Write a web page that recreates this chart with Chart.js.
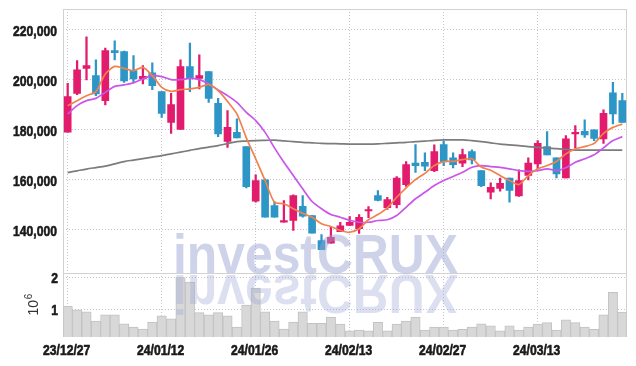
<!DOCTYPE html>
<html>
<head>
<meta charset="utf-8">
<script src="https://cdn.jsdelivr.net/npm/chart.js@4/dist/chart.umd.min.js"></script>
<style>
  html, body { margin: 0; padding: 0; background: #ffffff; }
  #wrap { width: 636px; height: 366px; position: relative; }
</style>
</head>
<body>
<div id="wrap"><canvas id="c" width="636" height="366"></canvas></div>
<script>
// ---- data ----
const dates = ['23/12/27','23/12/28','24/01/02','24/01/03','24/01/04','24/01/05','24/01/08','24/01/09','24/01/10','24/01/11',
  '24/01/12','24/01/15','24/01/16','24/01/17','24/01/18','24/01/19','24/01/22','24/01/23','24/01/24','24/01/25',
  '24/01/26','24/01/29','24/01/30','24/01/31','24/02/01','24/02/02','24/02/05','24/02/06','24/02/07','24/02/08',
  '24/02/13','24/02/14','24/02/15','24/02/16','24/02/19','24/02/20','24/02/21','24/02/22','24/02/23','24/02/26',
  '24/02/27','24/02/28','24/02/29','24/03/04','24/03/05','24/03/06','24/03/07','24/03/08','24/03/11','24/03/12',
  '24/03/13','24/03/14','24/03/15','24/03/18','24/03/19','24/03/20','24/03/21','24/03/22','24/03/25','24/03/26'];

const xTickLabels = ['23/12/27','24/01/12','24/01/26','24/02/13','24/02/27','24/03/13'];
const priceTicks = [140000, 160000, 180000, 200000, 220000];
const volumeTicks = [1000000, 2000000];

const openP = [179100,194600,204600,201700,191700,211700,211300,203700,200400,202800,
  195300,183000,180200,205300,200600,203300,190600,175400,179000,173300,
  151400,160000,149700,143000,143700,149400,145700,135700,134600,139200,
  141700,140400,147500,153700,148800,150000,158100,166700,167000,163700,
  174100,168800,166700,171300,163700,155000,156600,160700,153500,161800,
  166400,173300,168800,160800,178400,179400,180000,176400,194800,191700];
const highP = [198600,207700,217300,208000,212800,215700,211500,209700,205700,206800,
  195300,194600,208000,214800,210000,203300,192600,187700,184400,173300,
  162000,160400,151300,151700,154000,153700,145700,138100,141300,143000,
  145300,146100,149300,155700,153000,161300,167300,174100,170800,174000,
  175500,170800,172300,172000,163700,158800,160700,160700,164000,168800,
  175700,179300,168800,177700,181700,184000,180000,188000,199000,194600];
const lowP = [179100,194100,200000,193700,190000,208000,199000,199300,198400,196100,
  185000,178600,180200,195300,196400,191000,177300,173000,176800,156800,
  151000,145000,145000,143000,139700,145000,138600,132000,134600,139200,
  141700,138500,144800,151500,148100,148700,157400,163000,163700,163300,
  165700,164800,165300,166400,157300,152300,155400,151000,153300,160000,
  164400,170000,160800,160800,172800,177000,175700,174600,182400,183000];
const closeP = [193300,204000,205700,194400,211700,210900,199600,200400,201400,197700,
  186600,190100,205300,200800,201700,192600,178400,181000,176800,157300,
  159700,145000,145000,143700,153700,145400,138600,132000,137000,141600,
  143000,145000,147900,151700,152100,160700,166100,165700,165500,171300,
  167300,166100,170100,168000,157700,157000,158600,155700,159700,166700,
  174600,170000,162400,176400,179000,178000,176600,186600,186400,183000];

const maShort = [189700,191700,193700,195300,202400,205400,204600,203700,205000,201700,
  197000,195400,196100,196400,197000,198200,195700,191400,186400,176800,
  168400,159700,151000,150400,148400,146600,145000,142400,141300,139700,
  139000,140400,144000,146100,148800,153000,156800,160100,162600,165700,
  167300,167400,168100,168400,165100,163800,161700,159700,158100,161700,
  164400,165700,167300,170400,172400,173300,174600,178600,181000,182300];
const maMid = [186400,189700,191700,192600,195000,197400,198000,198800,200400,201700,
  201300,200100,200100,200600,200100,198400,196000,193700,191000,187000,
  183700,179000,172800,167000,161700,156400,151300,148400,146100,145000,
  143800,143000,143000,143700,144000,145700,149000,152400,155000,157700,
  159700,161300,163000,165000,165700,165300,165000,164400,163700,163400,
  163700,164400,163700,164800,167000,168400,170000,172800,175700,177300];
const maLong = [162900,163600,164300,164900,165500,166400,167300,167900,168500,169100,
  169700,170400,171100,171800,172500,173100,173700,174500,175300,175500,
  175700,175800,175900,175600,175300,175000,174800,174600,174500,174400,
  174300,174300,174300,174400,174600,174800,175000,175300,175500,175800,
  176000,176000,176000,175700,175300,174800,174300,174000,173700,173300,
  173000,172700,172500,172200,171900,171900,171900,171900,171900,171900];

const volume = [1100000,980000,920000,630000,820000,820000,540000,440000,375000,600000,
  790000,700000,1990000,1850000,890000,820000,890000,790000,440000,1130000,
  1660000,920000,630000,380000,600000,920000,560000,560000,750000,530000,
  320000,350000,320000,590000,320000,530000,630000,750000,350000,440000,
  440000,350000,370000,440000,540000,480000,320000,480000,350000,440000,
  530000,580000,350000,670000,580000,440000,370000,820000,1530000,910000];

// ---- styling ----
const UP = '#e21b6c';
const DOWN = '#2e96c6';
const GRID = '#c4c4d6';
const FONT = '"Liberation Sans", Arial, sans-serif';
const SQUEEZE = 0.81;

const isUp = i => closeP[i] >= openP[i];
const candleColor = ctx => isUp(ctx.dataIndex) ? UP : DOWN;

function squeezedText(ctx, text, x, y, align, font, color) {
  ctx.save();
  ctx.translate(x, y);
  ctx.scale(SQUEEZE, 1);
  ctx.font = font;
  ctx.fillStyle = color;
  ctx.strokeStyle = color;
  ctx.lineWidth = 0.6;
  ctx.textAlign = align;
  ctx.textBaseline = 'alphabetic';
  ctx.fillText(text, 0, 0);
  ctx.strokeText(text, 0, 0);
  ctx.restore();
}

const panelPlugin = {
  id: 'panels',
  beforeDatasetsDraw(chart) {
    const {ctx, chartArea} = chart;
    const yv = chart.scales.yv;
    ctx.save();
    ctx.strokeStyle = '#d2d2d2';
    ctx.lineWidth = 1;
    ctx.strokeRect(Math.round(chartArea.left) + 0.5, Math.round(chartArea.top) + 0.5,
      Math.round(chartArea.right - chartArea.left) - 1, Math.round(yv.top - chartArea.top));
    ctx.beginPath();
    ctx.moveTo(chartArea.left, Math.round(yv.top) + 0.5);
    ctx.lineTo(chartArea.right, Math.round(yv.top) + 0.5);
    ctx.moveTo(Math.round(chartArea.left) + 0.5, yv.top);
    ctx.lineTo(Math.round(chartArea.left) + 0.5, chartArea.bottom);
    ctx.moveTo(Math.round(chartArea.right) - 0.5, yv.top);
    ctx.lineTo(Math.round(chartArea.right) - 0.5, chartArea.bottom);
    ctx.stroke();
    ctx.restore();
  },
  afterDatasetsDraw(chart) {
    const {ctx} = chart;
    const {x, y, yv} = chart.scales;
    ctx.save();
    // watermark
    const text = 'investCRUX';
    ctx.font = 'bold 56px ' + FONT;
    const w = ctx.measureText(text).width;
    const sx = 285 / w;
    const baseY = 273;
    ctx.translate(173, baseY);
    ctx.scale(sx, 1);
    ctx.fillStyle = 'rgba(150,162,210,0.47)';
    ctx.textBaseline = 'alphabetic';
    ctx.fillText(text, 0, 0);
    ctx.scale(1, -1);
    const g = ctx.createLinearGradient(0, 0, 0, 48);
    g.addColorStop(0, 'rgba(150,162,210,0.34)');
    g.addColorStop(1, 'rgba(150,162,210,0.0)');
    ctx.fillStyle = g;
    ctx.fillText(text, 0, -2);
    ctx.restore();

    // tick labels
    const tickFont = 'bold 15px ' + FONT;
    priceTicks.forEach(v => {
      squeezedText(ctx, v.toLocaleString('en-US'), 57, y.getPixelForValue(v) + 6.5, 'right', tickFont, '#1a1a1a');
    });
    volumeTicks.forEach(v => {
      squeezedText(ctx, String(v / 1000000), 58, yv.getPixelForValue(v) + 6, 'right', tickFont, '#1a1a1a');
    });
    dates.forEach((d, i) => {
      if (xTickLabels.includes(d)) {
        squeezedText(ctx, d, x.getPixelForValue(i) - 1, 354.5, 'center', tickFont, '#1a1a1a');
      }
    });

    // volume axis unit
    ctx.save();
    const cy = (yv.top + yv.bottom) / 2;
    ctx.translate(38, cy);
    ctx.rotate(-Math.PI / 2);
    ctx.fillStyle = '#333';
    ctx.textBaseline = 'alphabetic';
    ctx.textAlign = 'left';
    ctx.font = '14px ' + FONT;
    const w10 = ctx.measureText('10').width;
    ctx.font = '10px ' + FONT;
    const w6 = ctx.measureText('6').width;
    const x0 = -(w10 + w6) / 2;
    ctx.font = '14px ' + FONT;
    ctx.fillText('10', x0, 0);
    ctx.font = '10px ' + FONT;
    ctx.fillText('6', x0 + w10 + 0.5, -6);
    ctx.restore();
  }
};

new Chart(document.getElementById('c'), {
  type: 'bar',
  data: {
    labels: dates,
    datasets: [
      { type: 'line', label: 'MA short', data: maShort, yAxisID: 'y', borderColor: '#f0824e', borderWidth: 1.7,
        pointRadius: 0, tension: 0.25, order: 1 },
      { type: 'line', label: 'MA mid', data: maMid, yAxisID: 'y', borderColor: '#c955ea', borderWidth: 1.7,
        pointRadius: 0, tension: 0.25, order: 1 },
      { type: 'line', label: 'MA long', data: maLong, yAxisID: 'y', borderColor: '#7c7c7c', borderWidth: 1.7,
        pointRadius: 0, tension: 0.3, order: 1 },
      { label: 'body', data: openP.map((o, i) => [o, closeP[i]]), yAxisID: 'y', grouped: false,
        backgroundColor: candleColor, borderWidth: 0, barThickness: 7, minBarLength: 1.5, order: 2 },
      { label: 'wick', data: lowP.map((l, i) => [l, highP[i]]), yAxisID: 'y', grouped: false,
        backgroundColor: candleColor, borderWidth: 0, barThickness: 1.6, order: 3 },
      { label: 'volume', data: volume, yAxisID: 'yv', grouped: false,
        backgroundColor: '#d8d8d8', borderColor: '#c2c2c2', borderWidth: 1,
        barPercentage: 1, categoryPercentage: 1, order: 4 }
    ]
  },
  options: {
    responsive: false,
    animation: false,
    layout: { padding: { left: 0, right: 9, top: 9, bottom: 0 } },
    plugins: { legend: { display: false }, tooltip: { enabled: false } },
    scales: {
      x: {
        offset: true,
        grid: {
          offset: false, drawTicks: false,
          color: ctx => (ctx.index !== undefined && xTickLabels.includes(dates[ctx.index])) ? GRID : 'rgba(0,0,0,0)',
          lineWidth: 1
        },
        border: { display: false, dash: [1, 2] },
        ticks: { display: false, autoSkip: false, maxRotation: 0 },
        afterFit: s => { s.height = 29; }
      },
      yv: {
        position: 'left', stack: 'panes', stackWeight: 64.3,
        min: 130000, max: 2140000,
        grid: { color: GRID, drawTicks: false },
        border: { display: false, dash: [1, 2] },
        afterBuildTicks: s => { s.ticks = volumeTicks.map(v => ({ value: v })); },
        ticks: { display: false },
        afterFit: s => { s.width = 63; }
      },
      y: {
        position: 'left', stack: 'panes', stackWeight: 263.7,
        min: 122800, max: 228400,
        grid: { color: GRID, drawTicks: false },
        border: { display: false, dash: [1, 2] },
        afterBuildTicks: s => { s.ticks = priceTicks.map(v => ({ value: v })); },
        ticks: { display: false },
        afterFit: s => { s.width = 63; }
      }
    }
  },
  plugins: [panelPlugin]
});
</script>
</body>
</html>
